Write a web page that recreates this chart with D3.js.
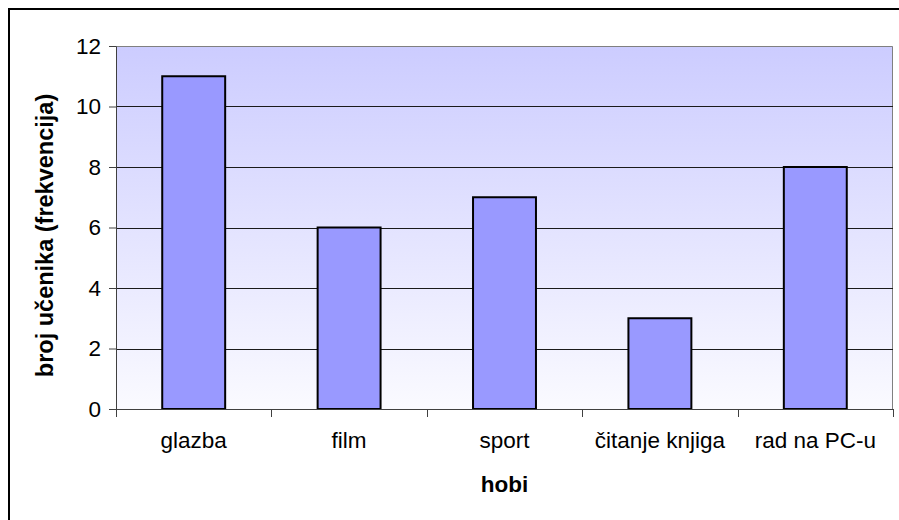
<!DOCTYPE html>
<html>
<head>
<meta charset="utf-8">
<script src="https://cdn.jsdelivr.net/npm/d3@7"></script>
<style>
  body { margin: 0; background: #fff; }
  svg text { font-family: "Liberation Sans", Arial, sans-serif; fill: #000; }
</style>
</head>
<body>
<svg id="chart" width="899" height="520"></svg>
<script>
// chart data
const hobbies = ["glazba", "film", "sport", "čitanje knjiga", "rad na PC-u"];
const counts = [11, 6, 7, 3, 8];
const yTicks = [0, 2, 4, 6, 8, 10, 12];

const svg = d3.select("svg#chart");
const margin = {left: 116, right: 6, top: 46, bottom: 111};
const w = svg.attr("width") - margin.left - margin.right;
const h = svg.attr("height") - margin.top - margin.bottom;

// outer chart border (runs off the right and bottom of the picture)
svg.append("rect")
    .attr("x", 9)
    .attr("y", 9)
    .attr("width", 900)
    .attr("height", 520)
    .attr("fill", "#fff")
    .attr("stroke", "#000")
    .attr("stroke-width", 2);

const defs = svg.append("defs");
const grad = defs.append("linearGradient")
    .attr("id", "plotBg")
    .attr("x1", 0).attr("y1", 0)
    .attr("x2", 0).attr("y2", 1);
grad.append("stop").attr("offset", "0%").attr("stop-color", "#ccccff");
grad.append("stop").attr("offset", "100%").attr("stop-color", "#fafaff");

const g = svg.append("g")
    .attr("transform", "translate(" + margin.left + ", " + margin.top + ")");

const xScale = d3.scaleBand().domain(hobbies).range([0, w])
    .paddingInner(0.595).paddingOuter(0.2975);
const yScale = d3.scaleLinear().domain([0, 12]).range([h, 0]);

// plot area
g.append("rect")
    .attr("width", w)
    .attr("height", h)
    .attr("fill", "url(#plotBg)");
g.append("path")
    .attr("d", "M0.5,0.5H" + (w - 0.5) + "V" + h)
    .attr("fill", "none")
    .attr("stroke", "#808080")
    .attr("stroke-width", 1);

// grid lines
g.append("g")
    .selectAll("line")
    .data(yTicks.filter((d) => d > 0 && d < 12))
    .join("line")
    .attr("x1", 0)
    .attr("x2", w)
    .attr("y1", (d) => Math.round(yScale(d)) + 0.5)
    .attr("y2", (d) => Math.round(yScale(d)) + 0.5)
    .attr("stroke", "#1a1a1a")
    .attr("stroke-width", 1);

// bars
g.append("g")
    .selectAll("rect")
    .data(counts)
    .join("rect")
    .attr("x", (d, i) => xScale(hobbies[i]))
    .attr("y", (d) => yScale(d))
    .attr("width", xScale.bandwidth())
    .attr("height", (d) => h - yScale(d))
    .attr("fill", "#9999ff")
    .attr("stroke", "#000")
    .attr("stroke-width", 2);

// y axis
const yAxis = g.append("g")
    .call(d3.axisLeft(yScale).tickValues(yTicks).tickSize(7).tickPadding(8))
    .attr("font-size", 22.5);
yAxis.select(".domain").attr("stroke", "#404040");
yAxis.selectAll(".tick line").attr("stroke", "#404040");
yAxis.selectAll("text")
    .attr("fill", "#000")
    .attr("font-family", "'Liberation Sans', Arial, sans-serif");

// x axis, ticks between categories
const bounds = d3.range(hobbies.length + 1).map((i) => i * w / hobbies.length);
const xAxis = g.append("g")
    .attr("transform", "translate(0, " + h + ")");
xAxis.append("line")
    .attr("x1", -7)
    .attr("x2", w)
    .attr("y1", 0.5)
    .attr("y2", 0.5)
    .attr("stroke", "#404040");
xAxis.selectAll("line.tick")
    .data(bounds)
    .join("line")
    .attr("class", "tick")
    .attr("x1", (d) => Math.round(d) + 0.5)
    .attr("x2", (d) => Math.round(d) + 0.5)
    .attr("y1", 0)
    .attr("y2", 8)
    .attr("stroke", "#404040");
xAxis.selectAll("text")
    .data(hobbies)
    .join("text")
    .attr("x", (d) => xScale(d) + xScale.bandwidth() / 2)
    .attr("y", 39)
    .attr("text-anchor", "middle")
    .attr("font-size", 22.5)
    .text((d) => d);

// axis titles
svg.append("text")
    .attr("x", margin.left + w / 2)
    .attr("y", 492)
    .attr("text-anchor", "middle")
    .attr("font-size", 22.5)
    .attr("font-weight", "bold")
    .text("hobi");

svg.append("text")
    .attr("transform", "translate(53, " + (margin.top + h / 2 + 8) + ") rotate(-90)")
    .attr("text-anchor", "middle")
    .attr("font-size", 23.5)
    .attr("font-weight", "bold")
    .text("broj učenika (frekvencija)");
</script>
</body>
</html>
